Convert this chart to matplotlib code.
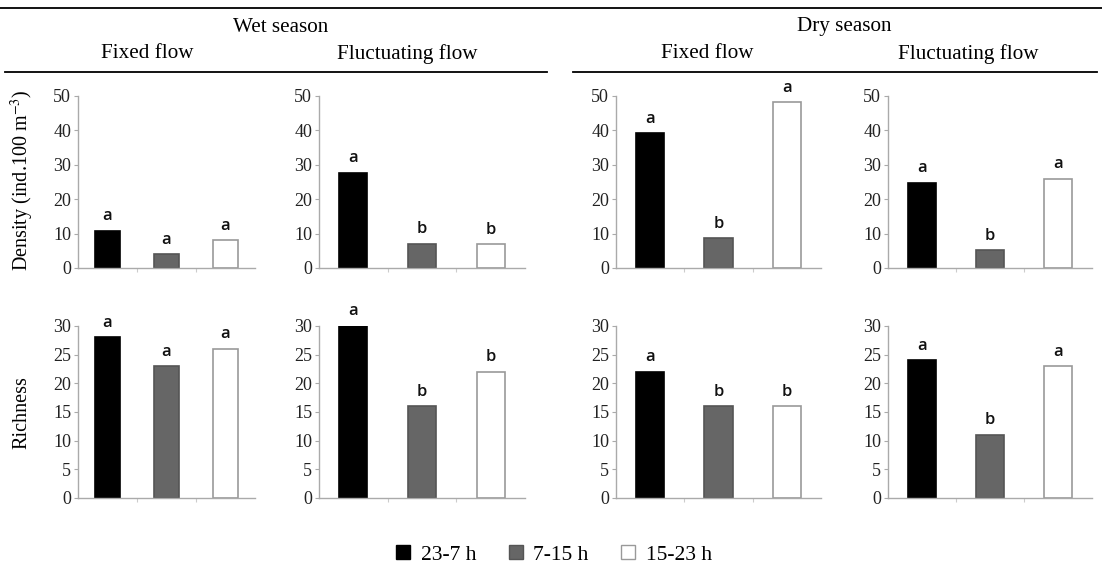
import matplotlib.pyplot as plt
from matplotlib.lines import Line2D
from matplotlib.patches import Patch

periods = ["23-7 h", "7-15 h", "15-23 h"]
panels = ["wet_fixed", "wet_fluct", "dry_fixed", "dry_fluct"]

density = {
    "wet_fixed": [10.9, 4.0, 8.0],
    "wet_fluct": [27.6, 7.0, 6.9],
    "dry_fixed": [39.1, 8.6, 48.2],
    "dry_fluct": [24.7, 5.1, 25.9],
}
density_letters = {
    "wet_fixed": ["a", "a", "a"],
    "wet_fluct": ["a", "b", "b"],
    "dry_fixed": ["a", "b", "a"],
    "dry_fluct": ["a", "b", "a"],
}
richness = {
    "wet_fixed": [28, 23, 26],
    "wet_fluct": [30, 16, 22],
    "dry_fixed": [22, 16, 16],
    "dry_fluct": [24, 11, 23],
}
richness_letters = {
    "wet_fixed": ["a", "a", "a"],
    "wet_fluct": ["a", "b", "b"],
    "dry_fixed": ["a", "b", "b"],
    "dry_fluct": ["a", "b", "a"],
}

fills = ["#000000", "#666666", "#ffffff"]
edges = ["#000000", "#555555", "#999999"]

plt.rcParams["font.family"] = ["Liberation Serif", "DejaVu Serif"]
plt.rcParams["mathtext.fontset"] = "stix"

W, H = 1102, 575
fig = plt.figure(figsize=(W / 100, H / 100), dpi=100)

# pixel boxes (left, width) for the four columns, (top, bottom) for rows
cols = [(78, 177), (319, 206), (616, 205), (888, 204)]
rows = [(96, 268), (326, 498)]


def px_axes(left, width, top, bottom):
    return fig.add_axes([left / W, 1 - bottom / H, width / W, (bottom - top) / H])


def draw_panel(ax, vals, letters, ymax, step):
    x = range(len(vals))
    ax.bar(x, vals, width=0.41, color=fills, edgecolor=edges, linewidth=1.2)
    for xi, v, lab in zip(x, vals, letters):
        ax.annotate(lab, (xi, v), xytext=(0, 10.5), textcoords="offset points",
                    ha="center", va="center", fontsize=12, fontweight="semibold",
                    family=["Open Sans", "DejaVu Sans"], color="#111111")
    ax.set_xlim(-0.5, 2.5)
    ax.set_ylim(0, ymax)
    ax.set_yticks(range(0, ymax + 1, step))
    ax.set_xticks([0.5, 1.5])
    ax.set_xticklabels([])
    for s in ("top", "right"):
        ax.spines[s].set_visible(False)
    for s in ("left", "bottom"):
        ax.spines[s].set_color("#aaaaaa")
        ax.spines[s].set_linewidth(1.0)
    ax.tick_params(axis="y", length=3, color="#aaaaaa", labelsize=13, pad=2)
    ax.tick_params(axis="x", length=3, color="#cccccc")
    for lab in ax.get_yticklabels():
        lab.set_color("#222222")


for (left, width), key in zip(cols, panels):
    ax1 = px_axes(left, width, *rows[0])
    draw_panel(ax1, density[key], density_letters[key], 50, 10)
    ax2 = px_axes(left, width, *rows[1])
    draw_panel(ax2, richness[key], richness_letters[key], 30, 5)


# header rules and titles
def hline(x0, x1, y, lw):
    fig.add_artist(Line2D([x0 / W, x1 / W], [1 - y / H, 1 - y / H],
                          color="black", linewidth=lw))


hline(0, W, 8, 1.3)
hline(5, 547, 72, 1.3)
hline(573, 1097, 72, 1.3)


def ftext(x, y, s, size=15.2, **kw):
    fig.text(x / W, 1 - y / H, s, ha="center", va="center", fontsize=size, **kw)


ftext(281, 27, "Wet season")
ftext(147, 54, "Fixed flow")
ftext(407, 54, "Fluctuating flow")
ftext(844, 27, "Dry season")
ftext(707, 54, "Fixed flow")
ftext(968, 54, "Fluctuating flow")

ftext(22, 180, "Density (ind.100 m$^{-3}$)", size=14.5, rotation=90)
ftext(22, 413, "Richness", size=14.5, rotation=90)

handles = [Patch(facecolor=f, edgecolor=e, linewidth=1.0) for f, e in zip(fills, edges)]
fig.legend(handles, periods, loc="center", bbox_to_anchor=(554 / W, 1 - 555 / H),
           ncol=3, frameon=False, fontsize=15.5, handlelength=0.65, handleheight=0.65,
           handletextpad=0.5, columnspacing=1.5)

fig.savefig("out.png", dpi=100)
